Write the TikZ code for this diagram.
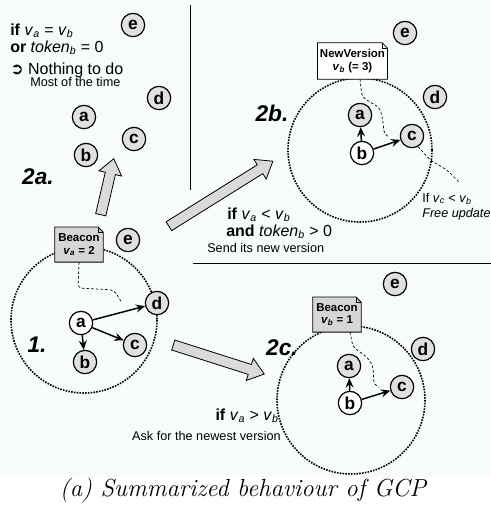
\documentclass[tikz,border=0pt]{standalone}
\usepackage{fontspec}
\setsansfont{Liberation Sans}
\newfontfamily\symfont{DejaVu Sans}
\usetikzlibrary{calc}
\usetikzlibrary{positioning}
\usetikzlibrary{arrows.meta}
\usetikzlibrary{shapes.arrows}

\definecolor{bgtint}{RGB}{247,251,251}
\definecolor{motegray}{RGB}{224,224,224}
\definecolor{notegray}{RGB}{214,214,214}
\definecolor{fatgray}{RGB}{218,218,218}

\newcommand{\vv}[1]{\textit{v}\textsubscript{\textit{#1}}}
\newcommand{\tok}[1]{\textit{token}\textsubscript{\textit{#1}}}
\newcommand{\foldsz}{4pt}
\newcommand{\fold}[1]{%
  \fill[bgtint] (#1.north east) -- ([xshift=-\foldsz]#1.north east)
    -- ([yshift=-\foldsz]#1.north east) -- cycle;
  \draw[line width=0.6pt] (#1.south west) -- (#1.north west)
    -- ([xshift=-\foldsz]#1.north east) -- ([yshift=-\foldsz]#1.north east)
    -- (#1.south east) -- cycle;
  \draw[line width=0.4pt] ([xshift=-\foldsz]#1.north east)
    -- ([xshift=-\foldsz,yshift=-\foldsz]#1.north east) -- ([yshift=-\foldsz]#1.north east);}
\newcommand{\fatarrow}[2]{%
  \path let \p1 = ($(#2)-(#1)$) in ($(#1)!0.5!(#2)$)
    node[fat, rotate={atan2(\y1,\x1)}, minimum height={veclen(\x1,\y1)}] {};}

\begin{document}
\begin{tikzpicture}[%
  x=0.75pt, y=-0.75pt,
  >={Stealth[length=7pt,width=6pt,inset=2.5pt]},
  mote/.style={circle, draw, line width=0.9pt, fill=motegray, minimum size=17.5pt,
    inner sep=0pt, font=\sffamily\bfseries\fontsize{13}{13}\selectfont},
  src/.style={mote, fill=white},
  link/.style={->, line width=1.1pt},
  reach/.style={line width=1.2pt, dash pattern=on 1.2pt off 0.9pt},
  wire/.style={line width=0.5pt, dash pattern=on 2pt off 1.5pt, rounded corners=3pt},
  note/.style={fill=#1, inner sep=0pt, align=center,
    font=\sffamily\bfseries\fontsize{8.6}{9.6}\selectfont},
  fat/.style={single arrow, draw, fill=fatgray, line width=0.6pt, inner xsep=0pt,
    inner ysep=3.6pt, minimum width=0pt, single arrow head extend=4.8pt,
    single arrow tip angle=75},
  cond/.style={inner sep=0pt, font=\sffamily\fontsize{12}{14}\selectfont},
  small/.style={inner sep=0pt, font=\sffamily\fontsize{9.5}{11}\selectfont},
  tag/.style={inner sep=0pt, font=\sffamily\bfseries\itshape\fontsize{17}{17}\selectfont},
]

  \useasboundingbox (0,0) rectangle (491,508);
  \fill[white] (0,0) rectangle (491,508);
  \fill[bgtint] (0,0) rectangle (491,477);

  \draw[line width=0.7pt] (190,5) -- (190,190);
  \draw[line width=0.7pt] (193,263) -- (491,263);

  \node[cond, anchor=west] (if2a) at (10,31) {\textbf{if} \vv{a} = \vv{b}};
  \node[cond, anchor=west] (or2a) at (10,48) {\textbf{or} \tok{b} = 0};
  \node[cond, anchor=west] (do2a) at (10,70) {{\symfont ➲} Nothing to do};
  \node[small, anchor=west] (most2a) at (30,82) {Most of the time};

  \node[mote] (e2) at (133,25) {e};
  \node[mote] (d2) at (159,98) {d};
  \node[mote] (a2) at (84,117) {a};
  \node[mote] (c2) at (134,139) {c};
  \node[mote] (b2) at (86,155) {b};
  \node[tag] (t2a) at (38,177) {2a.};

  \draw[reach] (84,320) circle (73);
  \node[note=notegray, minimum width=36pt, minimum height=26pt] (N1) at (79,244.5)
    {Beacon\\\vv{a} = 2};
  \fold{N1}
  \node[mote] (e1) at (128,240) {e};
  \node[mote] (d1) at (157,303) {d};
  \node[src] (a1) at (81,323) {a};
  \node[mote] (c1) at (135,345) {c};
  \node[mote] (b1) at (85,362) {b};
  \node[tag] (t1) at (37,345) {1.};
  \draw[wire] (N1.south) -- (78,288) -- (114,290) -- (122,303);
  \draw[link] (a1) -- (d1);
  \draw[link] (a1) -- (c1);
  \draw[link] (a1) -- (b1);

  \draw[reach] (360,150) circle (72);
  \node[note=white, minimum width=52pt, minimum height=27pt] (N3) at (352.5,61)
    {NewVersion\\\vv{b} (= 3)};
  \fold{N3}
  \node[mote] (e3) at (405,33) {e};
  \node[mote] (d3) at (435,97) {d};
  \node[mote] (a3) at (360,115) {a};
  \node[mote] (c3) at (412,136) {c};
  \node[src] (b3) at (362,153) {b};
  \node[tag] (t2b) at (272,113) {2b.};
  \draw[wire] (360,79) -- (362,97) -- (380,108) -- (383,121) -- (384,134) -- (389,137);
  \draw[wire] (c3.-60) -- (430,160) -- (447,170) -- (460,183);
  \draw[link] (b3) -- (a3);
  \draw[link] (b3) -- (c3);
  \node[small, anchor=west] (if2b) at (422,199) {If \vv{c} < \vv{b}};
  \node[small, anchor=west] (free2b) at (422,214) {\textit{Free update}};

  \draw[reach] (351,400) circle (74);
  \node[note=notegray, minimum width=36pt, minimum height=26pt] (N4) at (337,314.5)
    {Beacon\\\vv{b} = 1};
  \fold{N4}
  \node[mote] (e4) at (395,284) {e};
  \node[mote] (d4) at (423,349) {d};
  \node[mote] (a4) at (349,366) {a};
  \node[mote] (c4) at (402,387) {c};
  \node[src] (b4) at (350,403) {b};
  \node[tag] (t2c) at (282,348) {2c.};
  \draw[wire] (350,332) -- (353,347) -- (367,357) -- (373,366) -- (374,385) -- (379,387);
  \draw[link] (b4) -- (a4);
  \draw[link] (b4) -- (c4);

  \coordinate (A2a) at (100,218);
  \coordinate (B2a) at (113,162);
  \coordinate (A2b) at (166,228);
  \coordinate (B2b) at (270,163);
  \coordinate (A2c) at (170,344);
  \coordinate (B2c) at (261,373);
  \fatarrow{A2a}{B2a}
  \fatarrow{A2b}{B2b}
  \fatarrow{A2c}{B2c}

  \node[cond, anchor=west] (if2bc) at (227,215) {\textbf{if} \vv{a} < \vv{b}};
  \node[cond, anchor=west] (and2b) at (226,232) {\textbf{and} \tok{b} > 0};
  \node[small, anchor=west] (send2b) at (207,248) {Send its new version};

  \node[cond, anchor=east] (if2c) at (279,416) {\textbf{if} \vv{a} > \vv{b}};
  \node[small, anchor=east] (ask2c) at (281,436) {Ask for the newest version};

  \node[font=\itshape\fontsize{18.5}{18.5}\selectfont] (cap) at (243,490)
    {(a) Summarized behaviour of GCP};

\end{tikzpicture}
\end{document}
